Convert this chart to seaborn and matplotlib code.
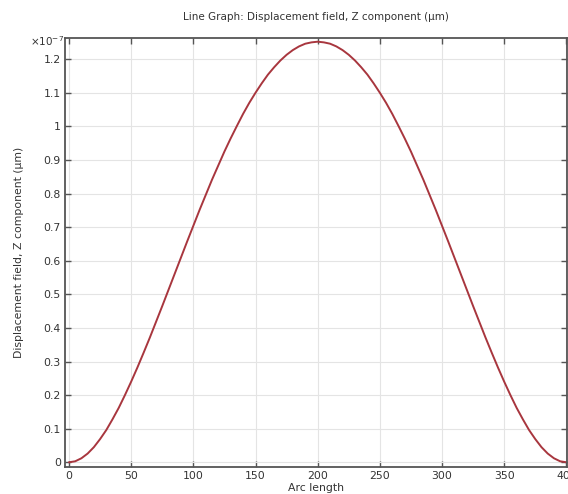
import matplotlib
matplotlib.use("Agg")
import matplotlib.pyplot as plt
import pandas as pd
import seaborn as sns
from matplotlib.ticker import FuncFormatter, MultipleLocator

# arc length along the edge (every 5 units)
arc = list(range(0, 405, 5))
# Z displacement, in units of 1e-7 um
disp_z = [0, 0.003, 0.012, 0.026, 0.045, 0.069, 0.096, 0.128, 0.162, 0.200,
          0.240, 0.282, 0.326, 0.371, 0.418, 0.465, 0.513, 0.561, 0.609,
          0.657, 0.704, 0.751, 0.796, 0.841, 0.883, 0.925, 0.964, 1.001,
          1.037, 1.070, 1.100, 1.128, 1.154, 1.176, 1.196, 1.213, 1.227,
          1.238, 1.246, 1.250, 1.252,
          1.250, 1.246, 1.238, 1.227, 1.213, 1.196, 1.176, 1.154, 1.128,
          1.100, 1.070, 1.037, 1.001, 0.964, 0.925, 0.883, 0.841, 0.796,
          0.751, 0.704, 0.657, 0.609, 0.561, 0.513, 0.465, 0.418, 0.371,
          0.326, 0.282, 0.240, 0.200, 0.162, 0.128, 0.096, 0.069, 0.045,
          0.026, 0.012, 0.003, 0]

df = pd.DataFrame({"arc": arc, "w": disp_z})

sns.set_style("ticks")
plt.rcParams["font.family"] = ["DejaVu Sans"]

fig = plt.figure(figsize=(5.68, 4.94), dpi=100)
ax = fig.add_axes([65 / 568, 1 - 467 / 494, 502 / 568, 429 / 494])

sns.lineplot(data=df, x="arc", y="w", ax=ax, color="#a8363e", linewidth=1.4)

ax.set_xlim(-3.2, 400.5)
ax.set_ylim(-0.014, 1.263)
ax.xaxis.set_major_locator(MultipleLocator(50))
ax.yaxis.set_major_locator(MultipleLocator(0.1))
ax.yaxis.set_major_formatter(FuncFormatter(lambda v, p: "%g" % round(v, 2)))
ax.grid(True, color="#e4e4e4", linewidth=0.8)
ax.set_axisbelow(True)

ax.tick_params(direction="in", length=4, width=1, color="#555555",
               labelsize=7.8, labelcolor="#333333", top=True, right=True, pad=3)
for s in ax.spines.values():
    s.set_color("#555555")
    s.set_linewidth(1.3)

ax.set_xlabel("Arc length", fontsize=7.8, color="#333333", labelpad=1)
ax.set_ylabel("Displacement field, Z component (µm)", fontsize=7.8,
              color="#333333", labelpad=14)
fig.text(316 / 568, 1 - 17 / 494, "Line Graph: Displacement field, Z component (µm)",
         ha="center", va="center", fontsize=7.5, color="#333333")
fig.text(30 / 568, 1 - 41 / 494, r"$\times10^{-7}$", ha="left", va="center",
         fontsize=7.5, color="#333333")

fig.savefig("out.png", dpi=100)
